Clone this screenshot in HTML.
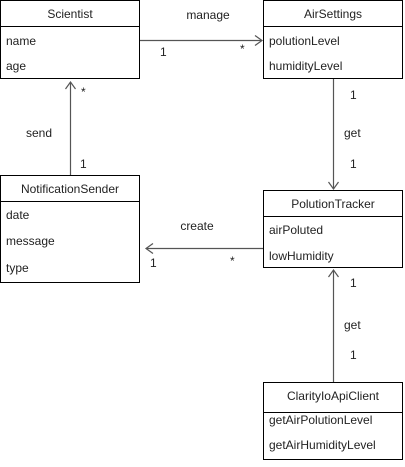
<!DOCTYPE html>
<html><head><style>
body{margin:0;background:#fff}
svg text{font-family:"Liberation Sans",sans-serif;font-size:12px;fill:#222}
</style></head><body>
<svg width="405" height="462" viewBox="0 0 405 462" xmlns="http://www.w3.org/2000/svg">
<g fill="#fff" stroke="#000" stroke-width="1">
<rect x="0.5" y="0.5" width="139" height="78"/><line x1="0" y1="26.5" x2="140" y2="26.5"/>
<rect x="263.5" y="0.5" width="139" height="78"/><line x1="263" y1="26.5" x2="403" y2="26.5"/>
<rect x="0.5" y="175.5" width="139" height="107"/><line x1="0" y1="201.5" x2="140" y2="201.5"/>
<rect x="263.5" y="190.5" width="139" height="77"/><line x1="263" y1="216.5" x2="403" y2="216.5"/>
<rect x="263.5" y="382.5" width="139" height="77"/><line x1="263" y1="412.5" x2="403" y2="412.5"/>
</g>
<g stroke="#555" stroke-width="1.2" fill="none">
<line x1="140" y1="40.5" x2="262" y2="40.5"/><polyline points="255,35.5 262,40.5 255,45.5"/>
<line x1="70.5" y1="175" x2="70.5" y2="82"/><polyline points="65.5,89 70.5,82 75.5,89"/>
<line x1="333.5" y1="79" x2="333.5" y2="189"/><polyline points="328.5,182 333.5,189 338.5,182"/>
<line x1="263" y1="248.5" x2="146" y2="248.5"/><polyline points="153,243.5 146,248.5 153,253.5"/>
<line x1="333.5" y1="382" x2="333.5" y2="270"/><polyline points="328.5,277 333.5,270 338.5,277"/>
</g>
<g text-anchor="middle">
<text x="70" y="18">Scientist</text>
<text x="333" y="18">AirSettings</text>
<text x="70" y="193">NotificationSender</text>
<text x="333" y="208">PolutionTracker</text>
<text x="333" y="400">ClarityIoApiClient</text>
<text x="208" y="19">manage</text>
<text x="197" y="230">create</text>
</g>
<text x="6" y="45">name</text><text x="6" y="70">age</text>
<text x="269" y="45">polutionLevel</text><text x="269" y="70">humidityLevel</text>
<text x="6" y="219">date</text><text x="6" y="245">message</text><text x="6" y="272">type</text>
<text x="269" y="234">airPoluted</text><text x="269" y="260">lowHumidity</text>
<text x="269" y="424">getAirPolutionLevel</text><text x="269" y="449">getAirHumidityLevel</text>
<text x="160" y="56">1</text><text x="240" y="53">*</text>
<text x="81" y="96">*</text><text x="80" y="168">1</text><text x="26" y="137">send</text>
<text x="350" y="99">1</text><text x="344" y="137">get</text><text x="350" y="168">1</text>
<text x="150" y="267">1</text><text x="230" y="265">*</text>
<text x="350" y="287">1</text><text x="344" y="329">get</text><text x="350" y="359">1</text>
</svg>
</body></html>
